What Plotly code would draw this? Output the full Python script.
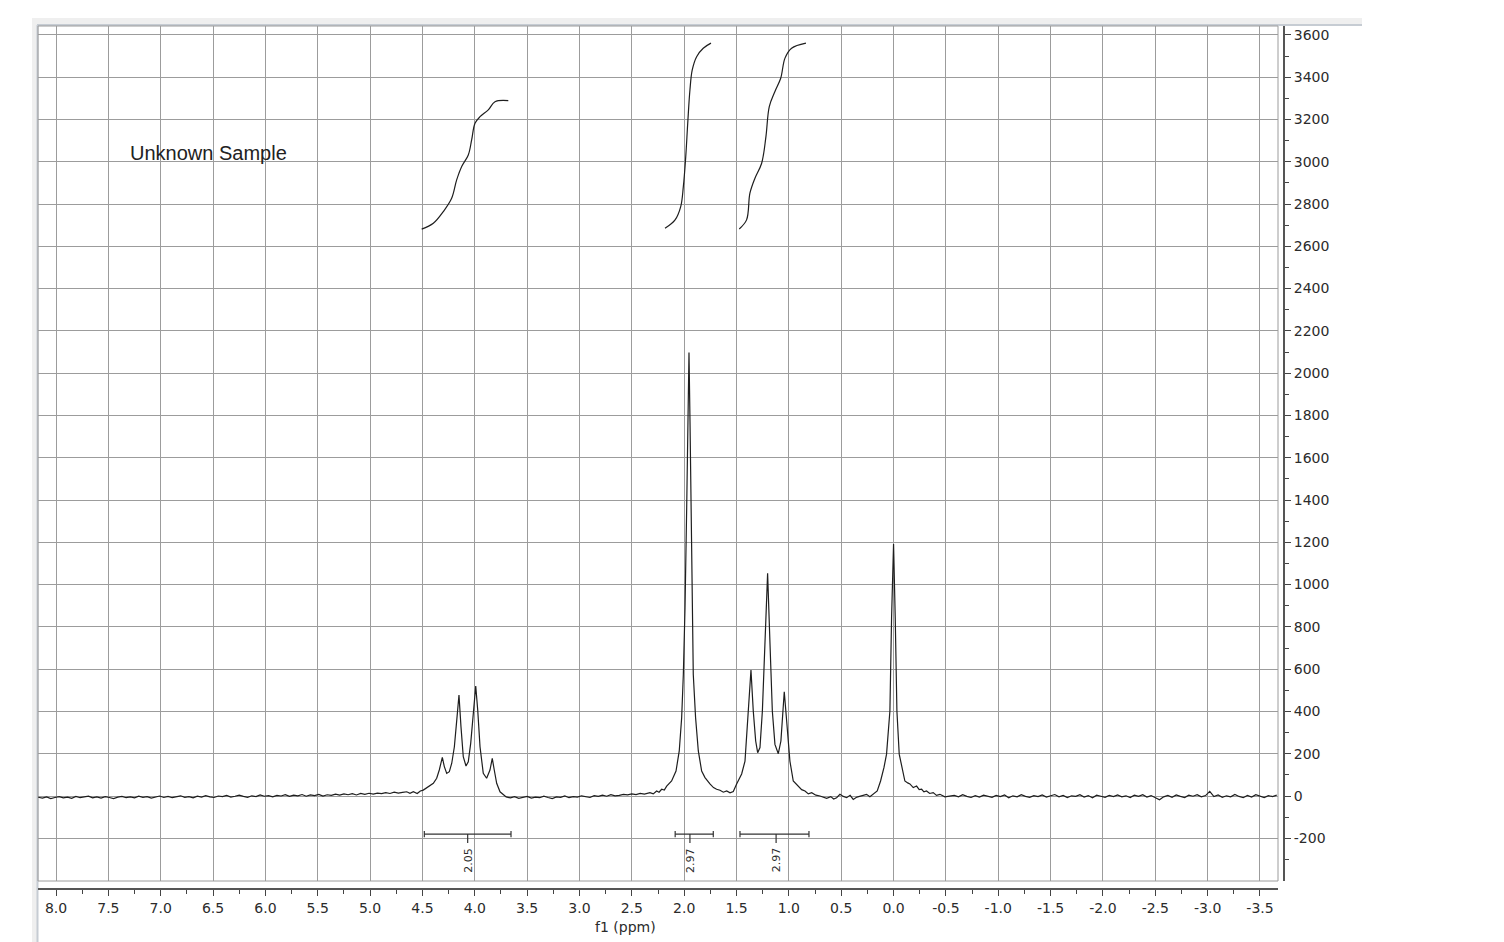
import plotly.graph_objects as go

# ---------------- data ----------------
# baseline noise segments on a regular ppm grid (values typed from the picture)
noise_step = 0.04
noise_left_start = 8.17
noise_left = [-6, -10, -4, -12, -7, -3, -9, -5, -11, -2, -8, -6, -1, -9, -4, -10, -3, -7, -12, -5,
              -2, -8, -4, -9, -1, -6, -3, -10, -5, 0, -7, -2, -8, -4, 1, -6, -3, -9, -1, -5,
              2, -4, -7, 0, -3, 3, -5, -1, 4, -2, -6, 1, -3, 5, -1, 2, -4, 3, 0, 6,
              -2, 4, 1, 7, -1, 5, 2, 8, 0, 6, 3, 9, 4, 10, 6, 11, 5, 12, 8, 13,
              9, 14, 11, 16, 12, 18, 14, 17, 20]
noise_mid_start = 3.70
noise_mid = [-4, -9, -3, -11, -6, -2, -10, -5, -8, -1, -7, -12, -4, -6, 0, -8, -3, -5, 1, -4,
             -7, 2, -2, 4, -1, 6, 1, 3, 8, 5, 10, 7, 12, 9, 14]
noise_right_start = -0.58
noise_right = [3, -4, 6, -2, -7, 2, -5, 4, -1, -6, 3, -3, 5, -8, 1, -4, 6, -2, -6, 2,
               -3, 5, -5, 0, 7, -4, 3, -7, 1, -2, 6, -5, 2, -8, 4, -1, -6, 3, -3, 5,
               -4, 1, -7, 4, -2, 6, -5, 2, -9, -18, -4, 3, -6, 5, -2, -7, 4, -1, 6, -4,
               2, 22, -3, 5, -6, 1, -4, 7, -2, -8, 3, -5, 6, -1, -7, 2, -3, 4]

# CH2 quartet (~4.1 ppm)
quartet_ppm = [4.619, 4.587, 4.55, 4.52, 4.492, 4.444, 4.396, 4.364, 4.339, 4.310, 4.291, 4.268,
               4.243, 4.220, 4.195, 4.172, 4.151, 4.132, 4.110, 4.084, 4.062, 4.039, 4.014, 3.991,
               3.972, 3.950, 3.919, 3.887, 3.855, 3.833, 3.814, 3.791, 3.759, 3.728]
quartet_int = [13, 20, 12, 24, 28, 44, 60, 84, 123, 183, 139, 107,
               115, 155, 233, 360, 478, 328, 186, 142, 162, 249, 407, 520,
               407, 233, 107, 84, 123, 178, 123, 60, 20, 5]

# CH3 singlet (~2.0 ppm)
singlet_ppm = [2.327, 2.295, 2.263, 2.24, 2.215, 2.19, 2.167, 2.120, 2.078, 2.047, 2.024, 2.008,
               1.992, 1.976, 1.966, 1.954, 1.944, 1.935, 1.925, 1.913, 1.891, 1.865, 1.833, 1.801,
               1.754, 1.72, 1.690]
singlet_int = [16, 10, 24, 18, 32, 28, 47, 71, 118, 213, 370, 575,
               890, 1365, 1760, 2098, 1760, 1365, 890, 575, 370, 213, 118, 87,
               57, 40, 32]

# CH3 triplet (~1.2 ppm)
triplet_ppm = [1.658, 1.626, 1.594, 1.562, 1.531, 1.499, 1.451, 1.419, 1.394, 1.362, 1.340, 1.317,
               1.298, 1.276, 1.253, 1.228, 1.203, 1.180, 1.158, 1.133, 1.101, 1.076, 1.044, 1.021,
               0.990, 0.958, 0.910, 0.878, 0.846, 0.814, 0.782, 0.742, 0.703, 0.671, 0.639, 0.60,
               0.572, 0.544]
triplet_int = [27, 18, 24, 15, 21, 57, 104, 165, 355, 596, 402, 260,
               205, 229, 402, 717, 1053, 717, 402, 244, 200, 260, 493, 355,
               165, 71, 44, 30, 24, 10, 16, 4, 0, -6, -11, -3,
               -14, -8]

# TMS reference (0.0 ppm)
tms_ppm = [0.512, 0.48, 0.448, 0.415, 0.385, 0.35, 0.321, 0.29, 0.258, 0.226, 0.194, 0.156,
           0.124, 0.092, 0.067, 0.035, 0.019, 0.0, -0.016, -0.032, -0.054, -0.086, -0.108, -0.135,
           -0.156, -0.188, -0.220, -0.245, -0.268, -0.290, -0.315, -0.345, -0.379, -0.41, -0.443,
           -0.49, -0.539]
tms_int = [8, -2, -8, 3, -16, -5, 0, 6, 8, -3, 8, 24,
           71, 134, 198, 402, 842, 1192, 842, 402, 198, 118, 71, 62,
           57, 40, 47, 30, 32, 20, 24, 12, 16, 3, 8,
           -4, 0]

# integral curves (ppm, integral trace height on the intensity scale)
int1_ppm = [4.507, 4.396, 4.301, 4.221, 4.173, 4.125, 4.062, 4.030, 3.998, 3.950, 3.871, 3.807, 3.680]
int1_val = [2681, 2709, 2764, 2827, 2914, 2977, 3032, 3103, 3182, 3213, 3245, 3284, 3289]
int2_ppm = [2.183, 2.087, 2.033, 2.008, 1.985, 1.966, 1.945, 1.923, 1.881, 1.818, 1.744]
int2_val = [2685, 2725, 2788, 2882, 3024, 3182, 3339, 3434, 3497, 3537, 3561]
int3_ppm = [1.474, 1.404, 1.372, 1.324, 1.260, 1.219, 1.187, 1.133, 1.078, 1.037, 0.974, 0.837]
int3_val = [2682, 2725, 2851, 2922, 2993, 3119, 3261, 3332, 3395, 3490, 3537, 3561]

# integration brackets
integ_start = [4.482, 2.086, 1.467]
integ_end = [3.654, 1.722, 0.808]
integ_center = [4.068, 1.945, 1.122]
integ_label = ["2.05", "2.97", "2.97"]
integ_level = -180
integ_label_level = -303

# axes
x_tick_vals = [8.0, 7.5, 7.0, 6.5, 6.0, 5.5, 5.0, 4.5, 4.0, 3.5, 3.0, 2.5, 2.0, 1.5, 1.0, 0.5,
               0.0, -0.5, -1.0, -1.5, -2.0, -2.5, -3.0, -3.5]
x_tick_text = ["8.0", "7.5", "7.0", "6.5", "6.0", "5.5", "5.0", "4.5", "4.0", "3.5", "3.0", "2.5",
               "2.0", "1.5", "1.0", "0.5", "0.0", "-0.5", "-1.0", "-1.5", "-2.0", "-2.5", "-3.0", "-3.5"]
y_tick_vals = list(range(-200, 3601, 200))
y_tick_text = [str(v).replace("\u2212", "-") for v in y_tick_vals]
x_range = [8.172, -3.672]
y_range = [-402, 3642]

# ---------------- assemble spectrum ----------------
def grid(start, n):
    return [round(start - noise_step * i, 3) for i in range(n)]

spec_x = (grid(noise_left_start, len(noise_left)) + quartet_ppm +
          grid(noise_mid_start, len(noise_mid)) + singlet_ppm + triplet_ppm + tms_ppm +
          grid(noise_right_start, len(noise_right)))
spec_y = noise_left + quartet_int + noise_mid + singlet_int + triplet_int + tms_int + noise_right

# ---------------- figure geometry ----------------
W, H = 1504, 942
ML, MR, MT, MB = 38, 220, 26, 53
PW, PH = W - ML - MR, H - MT - MB


def px(x):
    return (x - ML) / PW


def py(y):
    return (H - MB - y) / PH


INK = "#1e1e1e"
GRID = "#9c9c9c"
TXT = "#2b2b2b"

fig = go.Figure()

fig.add_trace(go.Scatter(x=spec_x, y=spec_y, mode="lines",
                         line=dict(color=INK, width=1.2), hoverinfo="skip", showlegend=False))

for ix, iv in ((int1_ppm, int1_val), (int2_ppm, int2_val), (int3_ppm, int3_val)):
    fig.add_trace(go.Scatter(x=ix, y=iv, mode="lines", line=dict(color=INK, width=1.2, shape="spline"),
                             hoverinfo="skip", showlegend=False))

# integration brackets
bx, by = [], []
cap = 15
for s, e, c in zip(integ_start, integ_end, integ_center):
    bx += [s, e, None, s, s, None, e, e, None, c, c, None]
    by += [integ_level, integ_level, None,
           integ_level - cap, integ_level + cap, None,
           integ_level - cap, integ_level + cap, None,
           integ_level, integ_level - 42, None]
fig.add_trace(go.Scatter(x=bx, y=by, mode="lines", line=dict(color="#333333", width=1.2),
                         hoverinfo="skip", showlegend=False))

for c, lab in zip(integ_center, integ_label):
    fig.add_annotation(x=c, y=integ_label_level, xref="x", yref="y", text=lab, textangle=-90,
                       showarrow=False, xanchor="center", yanchor="middle",
                       font=dict(family="DejaVu Sans", size=11, color=TXT))

fig.add_annotation(x=7.312, y=3042, xref="x", yref="y", text="Unknown Sample", showarrow=False,
                   xanchor="left", yanchor="middle",
                   font=dict(family="Liberation Sans, Arial", size=20, color="#222222"))

fig.add_annotation(x=px(625), y=py(927), xref="paper", yref="paper", text="f1 (ppm)",
                   showarrow=False, xanchor="center", yanchor="middle",
                   font=dict(family="DejaVu Sans", size=14, color=TXT))

# window-like frame decorations
fig.add_shape(type="rect", xref="paper", yref="paper", x0=px(32), x1=px(1362), y0=py(945), y1=py(18),
              fillcolor="#efefef", line=dict(width=0), layer="below")
fig.add_shape(type="rect", xref="paper", yref="paper", x0=px(37.5), x1=px(1362), y0=py(945), y1=py(24.5),
              fillcolor="white", line=dict(width=0), layer="below")
fig.add_shape(type="line", xref="paper", yref="paper", x0=px(37), x1=px(1362), y0=py(25), y1=py(25),
              line=dict(color="#c6ccd3", width=2), layer="below")
fig.add_shape(type="line", xref="paper", yref="paper", x0=px(37.5), x1=px(37.5), y0=py(945), y1=py(25),
              line=dict(color="#c6ccd3", width=2), layer="below")
fig.add_shape(type="rect", xref="x domain", yref="y domain", x0=0, x1=1, y0=0, y1=1,
              line=dict(color=GRID, width=1), layer="below")

fig.update_layout(
    width=W, height=H,
    margin=dict(l=ML, r=MR, t=MT, b=MB, pad=0),
    paper_bgcolor="white", plot_bgcolor="white",
    showlegend=False,
    xaxis=dict(range=x_range, domain=[0, px(1278)], anchor="free", position=0,
               tickmode="array", tickvals=x_tick_vals, ticktext=x_tick_text,
               ticks="outside", ticklen=6, tickwidth=1, tickcolor="#444444",
               showline=True, linecolor="#555555", linewidth=2,
               showgrid=True, gridcolor=GRID, gridwidth=1, zeroline=False,
               tickfont=dict(family="DejaVu Sans", size=14, color=TXT),
               minor=dict(tickvals=[v - 0.25 for v in x_tick_vals[:-1]], ticks="outside",
                          ticklen=4, tickcolor="#444444", showgrid=False)),
    yaxis=dict(range=y_range, domain=[py(881), 1], anchor="free", position=1, side="right",
               tickmode="array", tickvals=y_tick_vals, ticktext=y_tick_text,
               ticks="outside", ticklen=6, tickwidth=1, tickcolor="#444444",
               showline=True, linecolor="#555555", linewidth=2,
               showgrid=True, gridcolor=GRID, gridwidth=1, zeroline=False,
               tickfont=dict(family="DejaVu Sans", size=14, color=TXT),
               minor=dict(tickvals=[v + 100 for v in [-400] + y_tick_vals[:-1]], ticks="outside",
                          ticklen=4, tickcolor="#444444", showgrid=False)),
)

fig.write_html("out.html", config={"displayModeBar": False},
               post_script="document.body.style.margin='0';document.body.style.overflow='hidden';")
